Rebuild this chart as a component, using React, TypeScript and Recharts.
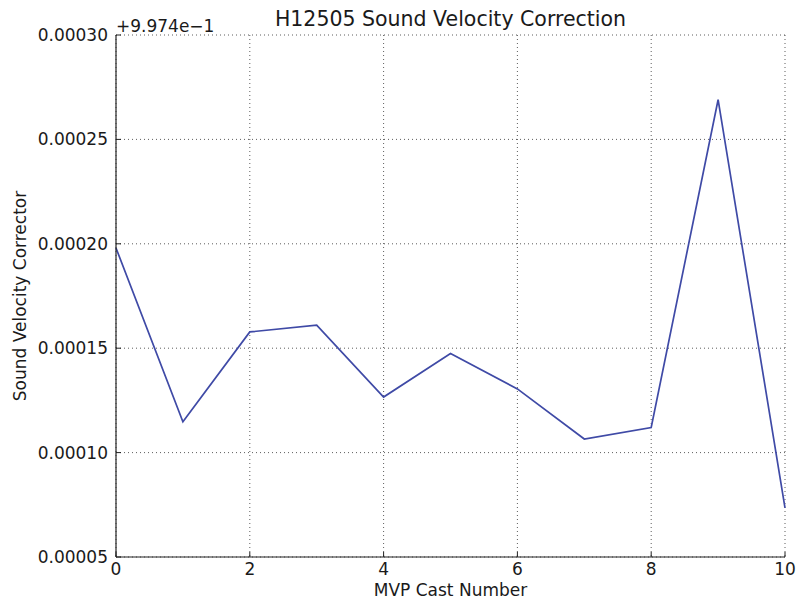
import { LineChart, Line, XAxis, YAxis, CartesianGrid, Label } from "recharts";

// cast numbers and sound velocity correctors (offset from 0.9974)
const castNumbers = [0, 1, 2, 3, 4, 5, 6, 7, 8, 9, 10];
const correctors = [
  0.000198, 0.0001148, 0.0001578, 0.000161, 0.0001266, 0.0001475, 0.0001305, 0.0001065, 0.000112, 0.000269, 0.0000735,
];
const xTicks = [0, 2, 4, 6, 8, 10];
const yTicks = [0.00005, 0.0001, 0.00015, 0.0002, 0.00025, 0.0003];

const data = castNumbers.map((c, i) => ({ cast: c, corrector: correctors[i] }));

const font = "'DejaVu Sans', sans-serif";
const ink = "#1a1a1a";
const frame = { stroke: "#222", strokeWidth: 1.2 };
const tickStroke = { stroke: "#222", strokeWidth: 1 };
const blank = () => "";

const App = () => {
  return (
    <div style={{ position: "absolute", left: 0, top: 0, width: 796, height: 601, fontFamily: font, background: "#fff" }}>
      <div style={{ position: "absolute", left: 116, width: 669, top: 7, textAlign: "center", fontSize: 20.5, color: ink, whiteSpace: "nowrap" }}>
        H12505 Sound Velocity Correction
      </div>
      <div style={{ position: "absolute", left: 116, top: 16, fontSize: 17, color: ink }}>+9.974e−1</div>
      <LineChart width={796} height={601} data={data} margin={{ top: 35, right: 11, bottom: 0, left: 0 }}>
        <CartesianGrid stroke="#333" strokeDasharray="1 3" strokeWidth={0.8} />
        <XAxis
          dataKey="cast"
          type="number"
          domain={[0, 10]}
          ticks={xTicks}
          height={44}
          tickSize={-5}
          tickMargin={11}
          tickLine={tickStroke}
          axisLine={frame}
          tick={{ fill: ink, fontSize: 17, fontFamily: font }}
        >
          <Label value="MVP Cast Number" position="center" dy={11} style={{ fill: ink, fontSize: 17, fontFamily: font }} />
        </XAxis>
        <XAxis
          xAxisId="top"
          orientation="top"
          dataKey="cast"
          type="number"
          domain={[0, 10]}
          ticks={xTicks}
          height={0}
          tickSize={-5}
          tickLine={tickStroke}
          tickFormatter={blank}
          axisLine={frame}
        />
        <YAxis
          type="number"
          domain={[0.00005, 0.0003]}
          ticks={yTicks}
          width={116}
          tickSize={-5}
          tickMargin={13}
          tickLine={tickStroke}
          tickFormatter={(v: number) => v.toFixed(5)}
          axisLine={frame}
          tick={{ fill: ink, fontSize: 17, fontFamily: font }}
        >
          <Label value="Sound Velocity Corrector" angle={-90} position="center" dx={-38} style={{ fill: ink, fontSize: 17, fontFamily: font, textAnchor: "middle" }} />
        </YAxis>
        <YAxis
          yAxisId="right"
          orientation="right"
          type="number"
          domain={[0.00005, 0.0003]}
          ticks={yTicks}
          width={0}
          tickSize={-5}
          tickLine={tickStroke}
          tickFormatter={blank}
          axisLine={frame}
        />
        <Line
          type="linear"
          dataKey="corrector"
          stroke="#3f4aa6"
          strokeWidth={1.7}
          dot={false}
          isAnimationActive={false}
        />
      </LineChart>
    </div>
  );
};

export default App;
